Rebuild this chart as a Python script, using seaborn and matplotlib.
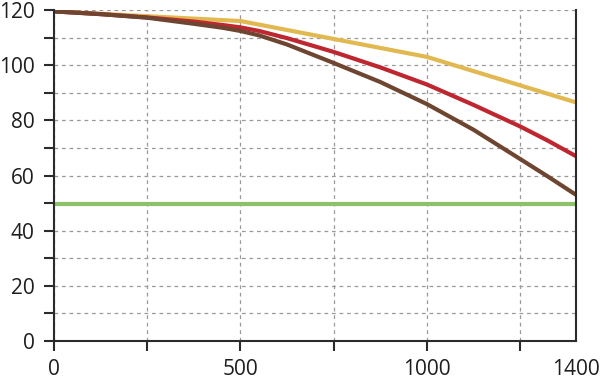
import numpy as np
import pandas as pd
import matplotlib
matplotlib.use('Agg')
import matplotlib.pyplot as plt
import seaborn as sns

# --- DATA
x_red = [0, 125, 250, 375, 450, 500, 550, 625, 750, 875, 1000, 1125, 1250, 1325, 1400]
red = [119.5, 118.5, 117.3, 115.8, 114.6, 113.7, 112.4, 109.8, 104.8, 99.2, 93.0, 85.6, 77.8, 72.6, 67.0]

x_brown = [0, 125, 250, 375, 450, 500, 550, 625, 750, 875, 1000, 1125, 1250, 1325, 1400]
brown = [119.5, 118.5, 117.2, 115.0, 113.6, 112.4, 110.8, 107.5, 100.8, 93.9, 85.9, 76.6, 66.0, 59.6, 53.0]

x_yellow = [0, 500, 1000, 1400]
yellow = [119.5, 116.0, 103.0, 86.5]

x_green = [0, 1400]
green = [49.5, 49.5]

x_ticks = [0, 500, 1000, 1400]
x_minor = [250, 750, 1250]
y_ticks = [0, 20, 40, 60, 80, 100, 120]
y_minor = [10, 30, 50, 70, 90, 110]

colors = {'green': '#8dc26a', 'yellow': '#e1b950', 'red': '#be2630', 'brown': '#6e4530'}

df = pd.concat([
    pd.DataFrame({'x': x_green, 'y': green, 'series': 'green'}),
    pd.DataFrame({'x': x_yellow, 'y': yellow, 'series': 'yellow'}),
    pd.DataFrame({'x': x_red, 'y': red, 'series': 'red'}),
    pd.DataFrame({'x': x_brown, 'y': brown, 'series': 'brown'}),
])

sns.set_style('ticks')
plt.rcParams['font.family'] = ['Open Sans', 'DejaVu Sans']

fig = plt.figure(figsize=(6, 3.8), dpi=100)
ax = fig.add_axes([0.09, 0.1026, 0.87, 0.8711])

sns.lineplot(data=df, x='x', y='y', hue='series', palette=colors, lw=3,
             legend=False, ax=ax, estimator=None, sort=False, zorder=3)

ax.set_xlim(0, 1400)
ax.set_ylim(0, 120)
ax.set_xticks(x_ticks)
ax.set_xticks(x_minor, minor=True)
ax.set_yticks(y_ticks)
ax.set_yticks(y_minor, minor=True)
ax.set_xlabel('')
ax.set_ylabel('')

ax.grid(True, which='both', color='#9a9a9a', ls=(0, (3, 3)), lw=0.9, zorder=0)
ax.set_axisbelow(True)

for side in ['left', 'right', 'bottom']:
    ax.spines[side].set_color('#2b2b2b')
    ax.spines[side].set_linewidth(1.5)
    ax.spines[side].set_zorder(4)
ax.spines['top'].set_visible(False)

ax.tick_params(axis='both', which='both', direction='out', length=7, width=1.5,
               color='#2b2b2b', labelsize=15, labelcolor='#1e1e1e')
ax.tick_params(axis='y', which='both', pad=7)
ax.tick_params(axis='x', which='both', pad=6)
ax.xaxis.get_major_ticks()[-1].tick1line.set_visible(False)

fig.savefig('out.png', dpi=100)
